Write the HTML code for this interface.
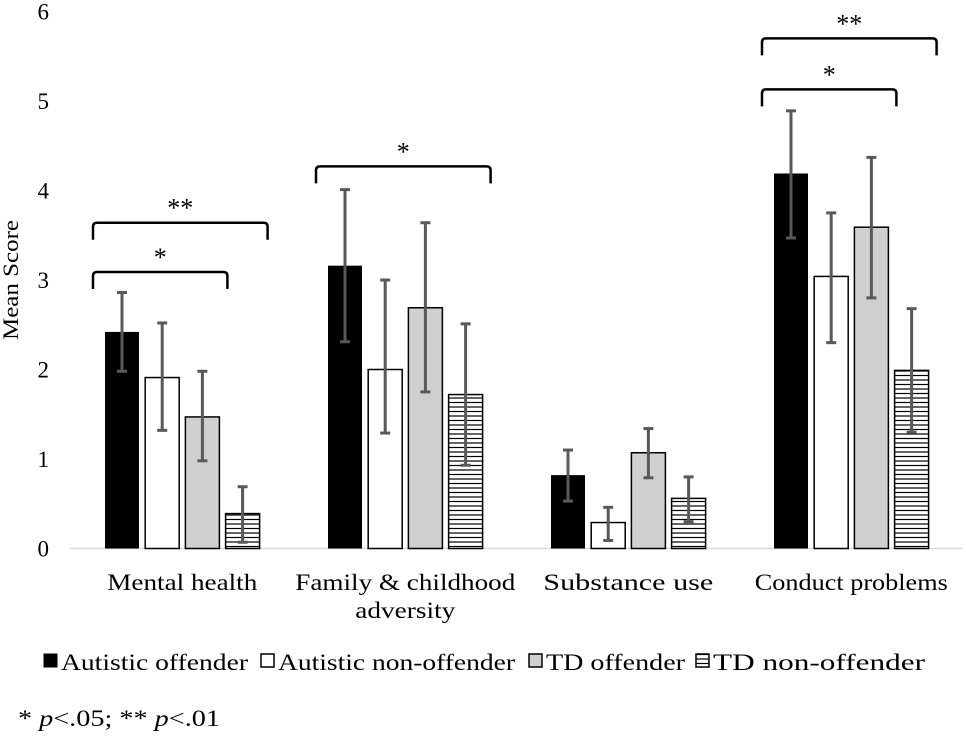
<!DOCTYPE html>
<html><head><meta charset="utf-8"><style>
body{margin:0;background:#fff;}
svg{display:block;font-family:"Liberation Serif",serif;}
</style></head><body>
<svg id="chart" width="966" height="741" viewBox="0 0 966 741">
<defs><pattern id="stripes" width="6" height="4.5" patternUnits="userSpaceOnUse"><rect width="6" height="4.5" fill="#fff"/><line x1="0" y1="2" x2="6" y2="2" stroke="#000" stroke-width="1.2"/></pattern></defs>
<g id="axes"></g><g id="bars"></g><g id="errs"></g>
<g id="brackets"></g>
<text x="18" y="280" font-size="22" text-anchor="middle" textLength="120" lengthAdjust="spacingAndGlyphs" transform="rotate(-90 18 280)">Mean Score</text>
<g id="legend" font-size="23">
<g><rect x="44" y="654" width="13" height="13" fill="#000" stroke="#000"/><text x="61" y="670" textLength="187" lengthAdjust="spacingAndGlyphs">Autistic offender</text></g>
<g><rect x="261" y="654" width="13" height="13" fill="#fff" stroke="#000" stroke-width="1.5"/><text x="278" y="670" textLength="237" lengthAdjust="spacingAndGlyphs">Autistic non-offender</text></g>
<g><rect x="529" y="654" width="13" height="13" fill="#d0d0d0" stroke="#000" stroke-width="1.5"/><text x="546" y="670" textLength="139" lengthAdjust="spacingAndGlyphs">TD offender</text></g>
<g><rect x="696" y="654" width="13" height="13" fill="url(#stripes)" stroke="#000" stroke-width="1.5"/><text x="713" y="670" textLength="212" lengthAdjust="spacingAndGlyphs">TD non-offender</text></g>
</g>
<text x="18" y="726" font-size="23" textLength="202" lengthAdjust="spacingAndGlyphs">* <tspan font-style="italic">p</tspan>&lt;.05; ** <tspan font-style="italic">p</tspan>&lt;.01</text>
</svg>
<script>
const categories=[["Mental health"],["Family & childhood","adversity"],["Substance use"],["Conduct problems"]];
const seriesNames=["Autistic offender","Autistic non-offender","TD offender","TD non-offender"];
const autisticOffender=[2.42,3.16,0.82,4.19];
const autisticNonOffender=[1.91,2.0,0.29,3.04];
const tdOffender=[1.47,2.69,1.07,3.59];
const tdNonOffender=[0.39,1.72,0.56,1.99];
const errHigh=[[2.86,2.52,1.98,0.69],[4.01,3.0,3.64,2.51],[1.1,0.46,1.34,0.8],[4.89,3.75,4.37,2.68]];
const errLow=[[1.98,1.32,0.98,0.07],[2.31,1.29,1.75,0.93],[0.53,0.09,0.79,0.3],[3.47,2.3,2.8,1.3]];
const yTicks=[0,1,2,3,4,5,6];
const brackets=[[0,0,3,3.64,"**"],[0,0,2,3.09,"*"],[1,0,3,4.27,"*"],[3,0,3,5.7,"**"],[3,0,2,5.13,"*"]];
const series=[autisticOffender,autisticNonOffender,tdOffender,tdNonOffender];
const fills=["#000","#fff","#d0d0d0","url(#stripes)"];
const labelWidths=[[150],[220,100],[170],[193]];
const NS="http://www.w3.org/2000/svg";
const y0=548.5,yUnit=89.5;
const y=v=>y0-v*yUnit;
const groupStart=105,groupPitch=223,barW=34,barPitch=40.2;
const bx=(c,s)=>groupStart+c*groupPitch+s*barPitch;
function mk(tag,attrs,parent,txt){const e=document.createElementNS(NS,tag);for(const k in attrs)e.setAttribute(k,attrs[k]);if(txt!=null)e.textContent=txt;parent.appendChild(e);return e;}
const axes=document.getElementById('axes'),bars=document.getElementById('bars'),errs=document.getElementById('errs'),br=document.getElementById('brackets');
const axis=mk('line',{x1:70,x2:962,y1:y0,y2:y0,stroke:'#d9d9d9','stroke-width':1.5},axes);


yTicks.forEach(t=>{const e=mk('text',{x:49,y:y(t)+8,'font-size':23,'text-anchor':'end'},axes,t);

});
categories.forEach((lines,c)=>{const cx=bx(c,0)+(3*barPitch+barW)/2;
lines.forEach((ln,i)=>{const e=mk('text',{x:cx,y:590+i*28,'font-size':23,'text-anchor':'middle',textLength:labelWidths[c][i],lengthAdjust:'spacingAndGlyphs'},axes,ln);

});
series.forEach((arr,s)=>{const v=arr[c];const r=mk('rect',{x:bx(c,s),y:y(v),width:barW,height:y0-y(v),fill:fills[s],stroke:'#000','stroke-width':s==0?0:1.5},bars);


const mx=bx(c,s)+barW/2,hi=y(errHigh[c][s]),lo=y(errLow[c][s]);
const g=mk('g',{stroke:'#595959','stroke-width':3},errs);


mk('line',{x1:mx,x2:mx,y1:hi,y2:lo},g);mk('line',{x1:mx-5,x2:mx+5,y1:hi,y2:hi},g);mk('line',{x1:mx-5,x2:mx+5,y1:lo,y2:lo},g);});});
brackets.forEach(([c,a,b,lv,lab])=>{const x1=bx(c,a)-12,x2=bx(c,b)+barW+8,yy=y(lv);
const p=mk('path',{d:`M${x1} ${yy+17} V${yy+4} Q${x1} ${yy} ${x1+4} ${yy} H${x2-4} Q${x2} ${yy} ${x2} ${yy+4} V${yy+17}`,fill:'none',stroke:'#000','stroke-width':2.5},br);


const t=mk('text',{x:(x1+x2)/2,y:yy-6,'font-size':26,'text-anchor':'middle'},br,lab);

});
</script>
</body></html>
